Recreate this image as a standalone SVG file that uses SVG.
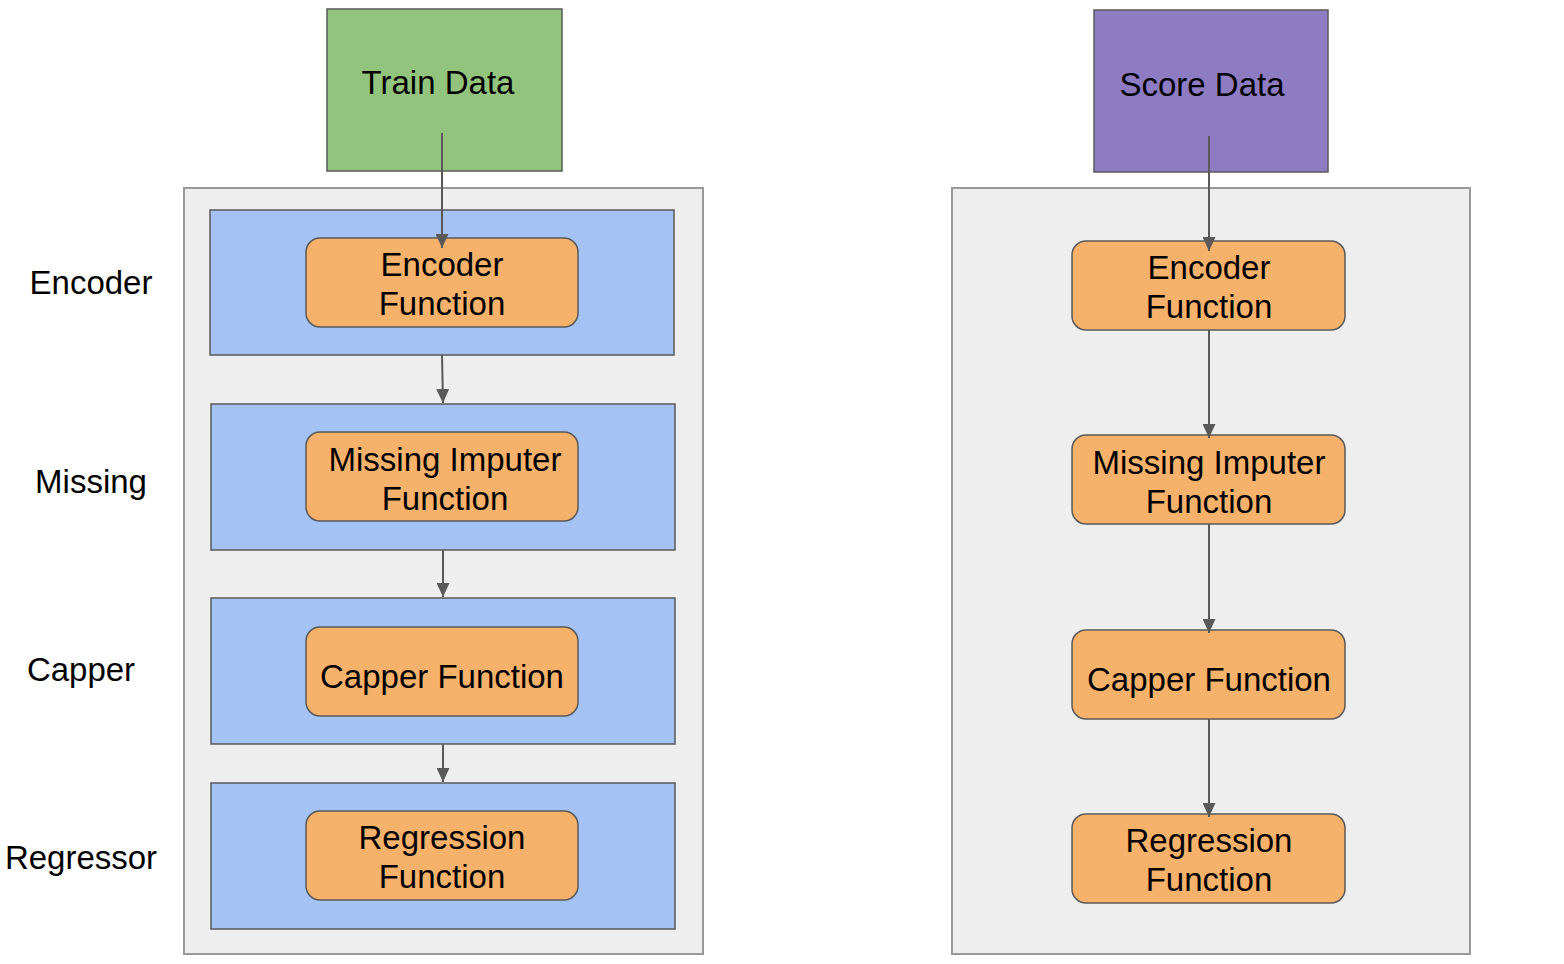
<svg xmlns="http://www.w3.org/2000/svg" width="1564" height="964" viewBox="0 0 1564 964">
<style>
.container{fill:#eeeeee;stroke:#999999;stroke-width:2}
.stage{fill:#a4c2f4;stroke:#595959;stroke-width:1.5}
.fn{fill:#f6b26b;stroke:#595959;stroke-width:1.5}
.t{font-family:"Liberation Sans",Arial,sans-serif;font-size:33px;fill:#000;text-anchor:middle}
.conn{stroke:#595959;stroke-width:2;fill:none;marker-end:url(#ah)}
</style>
<defs>
<marker id="ah" markerUnits="userSpaceOnUse" markerWidth="14" markerHeight="13" viewBox="0 0 14 13" refX="14" refY="6.5" orient="auto">
<path d="M0,0 L14,6.5 L0,13 Z" fill="#595959"/>
</marker>
</defs>
<rect width="1564" height="964" fill="#ffffff"/>
<g id="train-container"><rect class="container" x="184" y="188" width="519" height="766"/></g>
<g id="score-container"><rect class="container" x="952" y="188" width="518" height="766"/></g>
<g id="train-data"><rect x="327" y="9" width="235" height="162" fill="#93c47d" stroke="#595959" stroke-width="1.5"/><text class="t" x="438" y="94">Train Data</text></g>
<g id="score-data"><rect x="1094" y="10" width="234" height="162" fill="#8e7cc3" stroke="#595959" stroke-width="1.5"/><text class="t" x="1202" y="96">Score Data</text></g>
<g id="stage-encoder"><rect class="stage" x="210" y="210" width="464" height="145"/></g>
<g id="stage-missing"><rect class="stage" x="211" y="404" width="464" height="146"/></g>
<g id="stage-capper"><rect class="stage" x="211" y="598" width="464" height="146"/></g>
<g id="stage-regressor"><rect class="stage" x="211" y="783" width="464" height="146"/></g>
<g id="l-encoder"><rect class="fn" x="306" y="238" width="272" height="89" rx="14"/><text class="t" x="442" y="276">Encoder</text><text class="t" x="442" y="315">Function</text></g>
<g id="l-missing"><rect class="fn" x="306" y="432" width="272" height="89" rx="14"/><text class="t" x="445" y="471">Missing Imputer</text><text class="t" x="445" y="510">Function</text></g>
<g id="l-capper"><rect class="fn" x="306" y="627" width="272" height="89" rx="14"/><text class="t" x="442" y="688">Capper Function</text></g>
<g id="l-regression"><rect class="fn" x="306" y="811" width="272" height="89" rx="14"/><text class="t" x="442" y="849">Regression</text><text class="t" x="442" y="888">Function</text></g>
<g id="r-encoder"><rect class="fn" x="1072" y="241" width="273" height="89" rx="14"/><text class="t" x="1209" y="279">Encoder</text><text class="t" x="1209" y="318">Function</text></g>
<g id="r-missing"><rect class="fn" x="1072" y="435" width="273" height="89" rx="14"/><text class="t" x="1209" y="474">Missing Imputer</text><text class="t" x="1209" y="513">Function</text></g>
<g id="r-capper"><rect class="fn" x="1072" y="630" width="273" height="89" rx="14"/><text class="t" x="1209" y="691">Capper Function</text></g>
<g id="r-regression"><rect class="fn" x="1072" y="814" width="273" height="89" rx="14"/><text class="t" x="1209" y="852">Regression</text><text class="t" x="1209" y="891">Function</text></g>
<g id="labels">
<text class="t" x="91" y="294">Encoder</text>
<text class="t" x="91" y="493">Missing</text>
<text class="t" x="81" y="681">Capper</text>
<text class="t" x="81" y="869">Regressor</text>
</g>
<g id="connectors">
<line class="conn" x1="442" y1="133" x2="442" y2="248"/>
<line class="conn" x1="442" y1="355" x2="443" y2="403"/>
<line class="conn" x1="443" y1="550" x2="443" y2="597"/>
<line class="conn" x1="443" y1="744" x2="443" y2="782"/>
<line class="conn" x1="1209" y1="136" x2="1209" y2="251"/>
<line class="conn" x1="1209" y1="330" x2="1209" y2="438"/>
<line class="conn" x1="1209" y1="524" x2="1209" y2="633"/>
<line class="conn" x1="1209" y1="719" x2="1209" y2="817"/>
</g>
</svg>
